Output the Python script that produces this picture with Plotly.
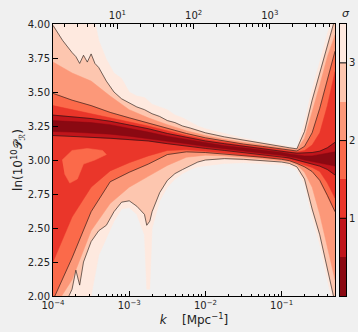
import plotly.graph_objects as go

# ---- data ----
logk = [-4, -3.75, -3.5, -3.25, -3, -2.75, -2.5, -2.25, -2, -1.75, -1.5, -1.25,
        -1, -0.9, -0.8, -0.7, -0.6, -0.5, -0.4, -0.3]

# upper boundaries of ln(1e10 P_R) at each sigma level (on logk)
upper_05 = [3.29, 3.285, 3.275, 3.26, 3.235, 3.205, 3.175, 3.15, 3.125, 3.105, 3.09, 3.075, 3.055, 3.045, 3.035, 3.03, 3.03, 3.04, 3.05, 3.06]
upper_10 = [3.33, 3.32, 3.305, 3.285, 3.26, 3.23, 3.195, 3.165, 3.14, 3.12, 3.10, 3.085, 3.065, 3.057, 3.05, 3.05, 3.055, 3.065, 3.09, 3.13]
upper_15 = [3.40, 3.37, 3.345, 3.315, 3.285, 3.25, 3.215, 3.18, 3.152, 3.13, 3.11, 3.093, 3.073, 3.065, 3.058, 3.07, 3.11, 3.20, 3.40, 3.65]
upper_20 = [3.49, 3.44, 3.40, 3.35, 3.31, 3.27, 3.23, 3.195, 3.163, 3.138, 3.117, 3.10, 3.08, 3.072, 3.066, 3.10, 3.20, 3.38, 3.60, 3.80]
upper_25 = [3.72, 3.64, 3.58, 3.47, 3.37, 3.31, 3.26, 3.215, 3.18, 3.152, 3.13, 3.11, 3.09, 3.082, 3.075, 3.16, 3.35, 3.55, 3.76, 3.92]

# lower boundaries (on logk)
lower_05 = [3.21, 3.205, 3.20, 3.19, 3.175, 3.16, 3.14, 3.12, 3.10, 3.08, 3.065, 3.05, 3.035, 3.025, 3.015, 3.0, 2.99, 2.975, 2.965, 2.955]
lower_10 = [3.18, 3.175, 3.17, 3.16, 3.15, 3.14, 3.12, 3.10, 3.085, 3.07, 3.055, 3.04, 3.025, 3.015, 3.0, 2.985, 2.97, 2.955, 2.93, 2.89]
lower_15 = [2.25, 2.58, 2.80, 2.92, 2.98, 3.03, 3.07, 3.075, 3.065, 3.05, 3.04, 3.025, 3.01, 3.0, 2.985, 2.965, 2.945, 2.915, 2.83, 2.72]
lower_20 = [1.97, 2.28, 2.62, 2.84, 2.91, 2.97, 3.04, 3.06, 3.055, 3.045, 3.03, 3.02, 3.005, 2.995, 2.975, 2.95, 2.915, 2.85, 2.74, 2.62]
lower_25 = [1.9, 2.12, 2.48, 2.68, 2.80, 2.88, 2.96, 3.02, 3.035, 3.03, 3.02, 3.01, 2.995, 2.985, 2.965, 2.91, 2.80, 2.60, 2.36, 2.12]

# finer sampling for the ragged outer edges
logk_up_outer = [-4, -3.875, -3.75, -3.7, -3.65, -3.6, -3.55, -3.5, -3.45, -3.4, -3.3, -3.2, -3.1,
                 -3.0, -2.9, -2.8, -2.7, -2.6, -2.5, -2.4, -2.3, -2.2, -2.1, -2.0, -1.75, -1.5,
                 -1.25, -1, -0.9, -0.8, -0.7, -0.6, -0.5, -0.4, -0.3]
upper_30 = [3.99, 3.88, 3.79, 3.76, 3.71, 3.77, 3.72, 3.78, 3.71, 3.68, 3.58, 3.50, 3.45,
            3.42, 3.39, 3.37, 3.34, 3.32, 3.29, 3.275, 3.25, 3.235, 3.215, 3.20, 3.17, 3.145,
            3.122, 3.10, 3.09, 3.082, 3.21, 3.44, 3.64, 3.86, 4.04]
upper_35 = [4.2, 4.2, 4.2, 4.2, 4.2, 4.2, 4.2, 4.1, 4.02, 3.88, 3.74, 3.64, 3.60,
            3.50, 3.47, 3.46, 3.41, 3.39, 3.37, 3.33, 3.31, 3.28, 3.25, 3.23, 3.195, 3.16,
            3.132, 3.11, 3.10, 3.092, 3.28, 3.52, 3.72, 3.93, 4.1]

logk_lo_outer = [-4, -3.875, -3.75, -3.7, -3.65, -3.6, -3.5, -3.4, -3.3, -3.2, -3.1, -3.0,
                 -2.9, -2.8, -2.77, -2.73, -2.7, -2.6, -2.5, -2.4, -2.3, -2.2, -2.1, -2.0, -1.75,
                 -1.5, -1.25, -1, -0.9, -0.8, -0.7, -0.6, -0.5, -0.4, -0.3]
lower_30 = [1.8, 1.9, 2.05, 2.19, 2.08, 2.25, 2.4, 2.48, 2.52, 2.62, 2.69, 2.70,
            2.66, 2.60, 2.52, 2.55, 2.62, 2.76, 2.85, 2.90, 2.93, 2.96, 2.985, 3.0, 3.01,
            3.005, 2.995, 2.985, 2.975, 2.95, 2.86, 2.64, 2.45, 2.2, 1.95]
lower_35 = [1.7, 1.8, 1.9, 1.95, 1.95, 1.95, 2.0, 2.3, 2.42, 2.55, 2.64, 2.65,
            2.60, 2.45, 2.05, 2.05, 2.50, 2.70, 2.80, 2.86, 2.90, 2.93, 2.95, 2.96, 2.975,
            2.98, 2.975, 2.965, 2.955, 2.93, 2.82, 2.58, 2.38, 2.12, 1.88]

# lighter patch inside the lower-left 1-1.5 sigma region
patch_logk = [-3.88, -3.75, -3.55, -3.35, -3.3, -3.45, -3.6, -3.68, -3.78, -3.85]
patch_y = [3.0, 3.07, 3.085, 3.07, 3.04, 3.0, 2.97, 2.86, 2.83, 2.9]

levels = [0, 0.5, 1, 1.5, 2, 2.5, 3, 3.5]
band_colors = ["#8a0912", "#c0151b", "#ea362a", "#fb6a4a", "#fc9879", "#fdc6af", "#fee9df"]
line_levels = [1, 2, 3]

x_ticks = [1e-4, 1e-3, 1e-2, 1e-1]
x_ticktext = ["10<sup>\u22124</sup>", "10<sup>\u22123</sup>", "10<sup>\u22122</sup>", "10<sup>\u22121</sup>"]
ell_ticks = [10, 100, 1000]
ell_ticktext = ["10<sup>1</sup>", "10<sup>2</sup>", "10<sup>3</sup>"]
log_ell_per_k = 4.155

upper = {0.5: (logk, upper_05), 1: (logk, upper_10), 1.5: (logk, upper_15), 2: (logk, upper_20),
         2.5: (logk, upper_25), 3: (logk_up_outer, upper_30), 3.5: (logk_up_outer, upper_35)}
lower = {0.5: (logk, lower_05), 1: (logk, lower_10), 1.5: (logk, lower_15), 2: (logk, lower_20),
         2.5: (logk, lower_25), 3: (logk_lo_outer, lower_30), 3.5: (logk_lo_outer, lower_35)}


def kv(lk):
    return [10 ** v for v in lk]


fig = go.Figure()

# filled bands, palest (outermost) first
for i in range(len(levels) - 1, 0, -1):
    s = levels[i]
    col = band_colors[i - 1]
    ku, yu = upper[s]
    kl, yl = lower[s]
    fig.add_trace(go.Scatter(
        x=kv(ku) + kv(kl)[::-1], y=yu + yl[::-1],
        mode="lines", fill="toself", fillcolor=col,
        line=dict(color=col, width=0.5), hoverinfo="skip", showlegend=False))
    if s == 1.5:
        fig.add_trace(go.Scatter(
            x=kv(patch_logk), y=patch_y, mode="lines", fill="toself",
            fillcolor=band_colors[3], line=dict(color=band_colors[3], width=0.5),
            hoverinfo="skip", showlegend=False))

# contour lines
for s in line_levels:
    for kk, arr in (upper[s], lower[s]):
        fig.add_trace(go.Scatter(x=kv(kk), y=arr, mode="lines",
                                 line=dict(color="rgba(20,20,20,0.75)", width=0.8),
                                 hoverinfo="skip", showlegend=False))

# top axis holder
fig.add_trace(go.Scatter(x=[], y=[], xaxis="x2", yaxis="y", showlegend=False))

# colour bar as a small subplot
n = len(band_colors)
cs = []
for i, c in enumerate(band_colors):
    cs.append([i / n, c])
    cs.append([(i + 1) / n, c])
fig.add_trace(go.Heatmap(x=[0, 1], y=levels, z=[[i] for i in range(n)],
                         colorscale=cs, zmin=-0.5, zmax=n - 0.5, showscale=False,
                         xaxis="x3", yaxis="y3", hoverinfo="skip"))
lx, ly = [], []
for s in line_levels:
    lx += [0, 1, None]
    ly += [s, s, None]
fig.add_trace(go.Scatter(x=lx, y=ly, mode="lines", line=dict(color="black", width=1),
                         xaxis="x3", yaxis="y3", showlegend=False, hoverinfo="skip"))

minor_k = [m * 10 ** e for e in range(-4, 0) for m in range(2, 10)]
minor_ell = [m * 10 ** e for e in range(0, 4) for m in range(2, 10)]

font = dict(family="DejaVu Sans", size=10, color="#222222")
W, H = 358, 332
ml, mr, mt, mb = 53, 12, 24, 36
pw = W - ml - mr

fig.update_layout(
    width=W, height=H,
    margin=dict(l=ml, r=mr, t=mt, b=mb, autoexpand=False),
    paper_bgcolor="#f0f0f0", plot_bgcolor="#f0f0f0",
    font=font,
    xaxis=dict(type="log", range=[-4, -0.3], domain=[0, 282 / pw], anchor="y",
               automargin=False,
               showline=True, linecolor="black", linewidth=1, mirror=False,
               ticks="inside", ticklen=5, tickcolor="black",
               tickmode="array", tickvals=x_ticks, ticktext=x_ticktext,
               minor=dict(tickmode="array", tickvals=minor_k, ticks="inside",
                          ticklen=2.5, tickcolor="black", showgrid=False),
               showgrid=False, zeroline=False,
               title=dict(text="<i>k</i>    [Mpc<sup>\u22121</sup>]", standoff=2)),
    xaxis2=dict(type="log", overlaying="x", side="top", anchor="y", automargin=False,
                range=[-4 + log_ell_per_k, -0.3 + log_ell_per_k],
                showline=True, linecolor="black", linewidth=1,
                ticks="inside", ticklen=5, tickcolor="black",
                tickmode="array", tickvals=ell_ticks, ticktext=ell_ticktext,
                minor=dict(tickmode="array", tickvals=minor_ell, ticks="inside",
                           ticklen=2.5, tickcolor="black", showgrid=False),
                showgrid=False, zeroline=False),
    yaxis=dict(range=[2, 4], domain=[0, 1], anchor="x", automargin=False,
               tickmode="linear", tick0=2, dtick=0.25, tickformat=".2f",
               showline=True, linecolor="black", linewidth=1, mirror=True,
               ticks="inside", ticklen=5, tickcolor="black",
               showgrid=False, zeroline=False,
               title=dict(text="ln(10<sup>10</sup>\U0001D4AB<sub>\u211B</sub>)", standoff=2)),
    xaxis3=dict(domain=[287 / pw, 1.0], range=[0, 1], anchor="y3", automargin=False,
                showticklabels=False, ticks="", showgrid=False, zeroline=False,
                showline=True, mirror=True, linecolor="black", linewidth=1),
    yaxis3=dict(domain=[0, 1], range=[0, 3.5], anchor="x3", side="right", automargin=False,
                tickmode="array", tickvals=line_levels, ticks="", ticklen=0,
                showgrid=False, zeroline=False,
                showline=True, mirror=True, linecolor="black", linewidth=1),
    annotations=[dict(text="<i>\u03c3</i>", xref="paper", yref="paper", x=1.0, y=1.0,
                      xanchor="center", yanchor="bottom", showarrow=False,
                      font=dict(family="DejaVu Sans", size=11, color="#222222"), yshift=2)],
)

fig.write_html("out.html", config={"displayModeBar": False},
               post_script="document.body.style.margin='0px';document.body.style.background='#f0f0f0';")
